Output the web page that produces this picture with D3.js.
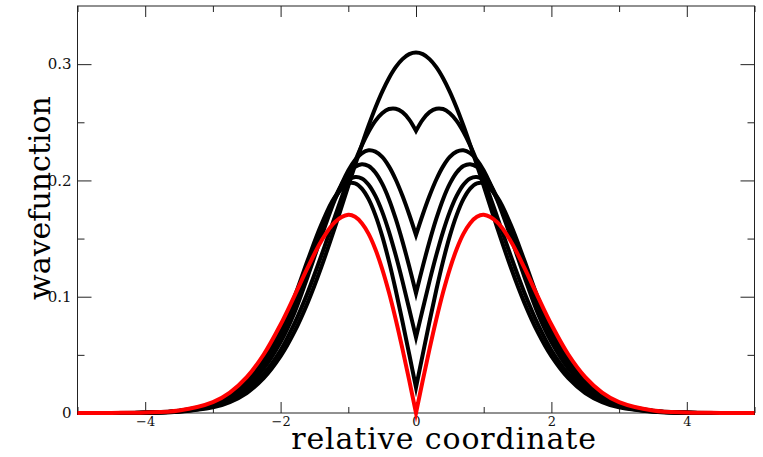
<!DOCTYPE html>
<html>
<head>
<meta charset="utf-8">
<script src="https://cdn.jsdelivr.net/npm/d3@7"></script>
<style>
  html, body { margin: 0; padding: 0; background: #fff; }
  svg { display: block; }
</style>
</head>
<body>
<div id="chart"></div>
<script>
// relative coordinate samples
const xs = [-5, -4.5, -4, -3.5, -3, -2.75, -2.5, -2.25, -2, -1.8, -1.6, -1.4, -1.2, -1, -0.9, -0.8, -0.7, -0.6, -0.5, -0.4, -0.3, -0.2, -0.1,
  0, 0.1, 0.2, 0.3, 0.4, 0.5, 0.6, 0.7, 0.8, 0.9, 1, 1.2, 1.4, 1.6, 1.8, 2, 2.25, 2.5, 2.75, 3, 3.5, 4, 4.5, 5];

// black curves, from the smooth one (no cusp) down to the deepest cusp
const psiA = [0, 0, 0.0002, 0.0011, 0.0048, 0.0094, 0.0172, 0.0299, 0.0488, 0.0693, 0.0949, 0.1253, 0.1593, 0.1952, 0.2132, 0.2306, 0.2472, 0.2625, 0.2762, 0.2879, 0.2974, 0.3043, 0.3086,
  0.3100, 0.3086, 0.3043, 0.2974, 0.2879, 0.2762, 0.2625, 0.2472, 0.2306, 0.2132, 0.1952, 0.1593, 0.1253, 0.0949, 0.0693, 0.0488, 0.0299, 0.0172, 0.0094, 0.0048, 0.0011, 0.0002, 0, 0];
const psiB = [0, 0, 0.0002, 0.0013, 0.0058, 0.0110, 0.0198, 0.0337, 0.0540, 0.0764, 0.1037, 0.1350, 0.1684, 0.2013, 0.2164, 0.2301, 0.2418, 0.2512, 0.2578, 0.2614, 0.2617, 0.2587, 0.2523,
  0.2426, 0.2523, 0.2587, 0.2617, 0.2614, 0.2578, 0.2512, 0.2418, 0.2301, 0.2164, 0.2013, 0.1684, 0.1350, 0.1037, 0.0764, 0.0540, 0.0337, 0.0198, 0.0110, 0.0058, 0.0013, 0.0002, 0, 0];
const psiC = [0, 0, 0.0003, 0.0015, 0.0066, 0.0126, 0.0226, 0.0382, 0.0610, 0.0856, 0.1174, 0.1512, 0.1831, 0.2086, 0.2176, 0.2234, 0.2259, 0.2248, 0.2202, 0.2121, 0.2008, 0.1868, 0.1707,
  0.1530, 0.1707, 0.1868, 0.2008, 0.2121, 0.2202, 0.2248, 0.2259, 0.2234, 0.2176, 0.2086, 0.1831, 0.1512, 0.1174, 0.0856, 0.0610, 0.0382, 0.0226, 0.0126, 0.0066, 0.0015, 0.0003, 0, 0];
const psiD = [0, 0, 0.0003, 0.0017, 0.0072, 0.0136, 0.0243, 0.0409, 0.0649, 0.0908, 0.1233, 0.1559, 0.1850, 0.2058, 0.2117, 0.2140, 0.2124, 0.2068, 0.1972, 0.1839, 0.1671, 0.1476, 0.1260,
  0.1030, 0.1260, 0.1476, 0.1671, 0.1839, 0.1972, 0.2068, 0.2124, 0.2140, 0.2117, 0.2058, 0.1850, 0.1559, 0.1233, 0.0908, 0.0649, 0.0409, 0.0243, 0.0136, 0.0072, 0.0017, 0.0003, 0, 0];
const psiE = [0, 0, 0.0003, 0.0018, 0.0076, 0.0145, 0.0259, 0.0433, 0.0683, 0.0950, 0.1269, 0.1582, 0.1843, 0.2002, 0.2029, 0.2017, 0.1963, 0.1867, 0.1732, 0.1560, 0.1358, 0.1134, 0.0894,
  0.0650, 0.0894, 0.1134, 0.1358, 0.1560, 0.1732, 0.1867, 0.1963, 0.2017, 0.2029, 0.2002, 0.1843, 0.1582, 0.1269, 0.0950, 0.0683, 0.0433, 0.0259, 0.0145, 0.0076, 0.0018, 0.0003, 0, 0];
const psiF = [0, 0, 0.0004, 0.0019, 0.0082, 0.0155, 0.0276, 0.0460, 0.0722, 0.0991, 0.1313, 0.1618, 0.1856, 0.1975, 0.1975, 0.1930, 0.1839, 0.1702, 0.1523, 0.1306, 0.1058, 0.0787, 0.0505,
  0.0220, 0.0505, 0.0787, 0.1058, 0.1306, 0.1523, 0.1702, 0.1839, 0.1930, 0.1975, 0.1975, 0.1856, 0.1618, 0.1313, 0.0991, 0.0722, 0.0460, 0.0276, 0.0155, 0.0082, 0.0019, 0.0004, 0, 0];
// red curve (node at the origin)
const psiRed = [0, 0.0001, 0.0004, 0.0022, 0.0094, 0.0176, 0.0309, 0.0503, 0.0761, 0.1001, 0.1250, 0.1477, 0.1641, 0.1704, 0.1687, 0.1632, 0.1540, 0.1408, 0.1240, 0.1038, 0.0806, 0.0551, 0.0280,
  0, 0.0280, 0.0551, 0.0806, 0.1038, 0.1240, 0.1408, 0.1540, 0.1632, 0.1687, 0.1704, 0.1641, 0.1477, 0.1250, 0.1001, 0.0761, 0.0503, 0.0309, 0.0176, 0.0094, 0.0022, 0.0004, 0.0001, 0];

const blackSeries = [psiA, psiB, psiC, psiD, psiE, psiF];

const xMajor = [-4, -2, 0, 2, 4];
const xMinor = [-5, -3, -1, 1, 3, 5];
const yMajor = [0, 0.1, 0.2, 0.3];
const yMinor = [0.05, 0.15, 0.25];
const yLabels = ["0", "0.1", "0.2", "0.3"];

const xTitle = "relative coordinate";
const yTitle = "wavefunction";

const width = 763, height = 457;
const margin = { left: 77.5, right: 8.5, top: 6, bottom: 44 };

const svg = d3.select("#chart").append("svg")
    .attr("width", width)
    .attr("height", height);

svg.append("rect").attr("width", width).attr("height", height).attr("fill", "#fff");

const x = d3.scaleLinear().domain([-5, 5]).range([margin.left, width - margin.right]);
const y = d3.scaleLinear().domain([0, 0.35]).range([height - margin.bottom, margin.top]);

const serif = "'DejaVu Serif', 'Liberation Serif', serif";

// frame
svg.append("rect")
    .attr("x", x(-5)).attr("y", y(0.35))
    .attr("width", x(5) - x(-5)).attr("height", y(0) - y(0.35))
    .attr("fill", "none").attr("stroke", "#222").attr("stroke-width", 1);

// ticks (pointing inward on all four sides)
function styleAxis(g) {
    g.select(".domain").remove();
    g.selectAll(".tick line").attr("stroke", "#222").attr("stroke-width", 1);
}

svg.append("g")
    .attr("transform", `translate(0,${y(0)})`)
    .call(d3.axisBottom(x).tickValues(xMajor).tickSize(-11).tickPadding(4).tickFormat(d3.format("d")))
    .call(styleAxis)
    .call(g => g.selectAll("text").attr("font-family", serif).attr("font-size", 13).attr("fill", "#111"));
svg.append("g")
    .attr("transform", `translate(0,${y(0)})`)
    .call(d3.axisBottom(x).tickValues(xMinor).tickSize(-6).tickFormat(""))
    .call(styleAxis);
svg.append("g")
    .attr("transform", `translate(0,${y(0.35)})`)
    .call(d3.axisTop(x).tickValues(xMajor).tickSize(-11).tickFormat(""))
    .call(styleAxis);
svg.append("g")
    .attr("transform", `translate(0,${y(0.35)})`)
    .call(d3.axisTop(x).tickValues(xMinor).tickSize(-6).tickFormat(""))
    .call(styleAxis);

svg.append("g")
    .attr("transform", `translate(${x(-5)},0)`)
    .call(d3.axisLeft(y).tickValues(yMajor).tickSize(-14).tickPadding(6).tickFormat((d, i) => yLabels[i]))
    .call(styleAxis)
    .call(g => g.selectAll("text").attr("font-family", serif).attr("font-size", 15).attr("fill", "#111"));
svg.append("g")
    .attr("transform", `translate(${x(-5)},0)`)
    .call(d3.axisLeft(y).tickValues(yMinor).tickSize(-7).tickFormat(""))
    .call(styleAxis);
svg.append("g")
    .attr("transform", `translate(${x(5)},0)`)
    .call(d3.axisRight(y).tickValues(yMajor).tickSize(-14).tickFormat(""))
    .call(styleAxis);
svg.append("g")
    .attr("transform", `translate(${x(5)},0)`)
    .call(d3.axisRight(y).tickValues(yMinor).tickSize(-7).tickFormat(""))
    .call(styleAxis);

// curves: each half drawn with a smooth curve, joined at x = 0 so the cusp stays sharp
const line = d3.line()
    .x(d => x(d[0]))
    .y(d => y(d[1]))
    .curve(d3.curveCatmullRom.alpha(0.5));

function cuspPath(vals) {
    const pts = xs.map((v, i) => [v, vals[i]]);
    const left = pts.filter(p => p[0] <= 0);
    const right = pts.filter(p => p[0] >= 0);
    return line(left) + line(right).replace(/^M[^A-Z]*/, "");
}

const curves = svg.append("g").attr("fill", "none")
    .attr("stroke-linejoin", "miter").attr("stroke-miterlimit", 12);

curves.append("path")
    .attr("d", line(xs.map((v, i) => [v, psiA[i]])))
    .attr("stroke", "#000").attr("stroke-width", 4);

curves.selectAll("path.cusp")
    .data(blackSeries.slice(1))
    .join("path")
    .attr("class", "cusp")
    .attr("d", d => cuspPath(d))
    .attr("stroke", "#000").attr("stroke-width", 4);

curves.append("path")
    .attr("d", cuspPath(psiRed))
    .attr("stroke", "#ff0000").attr("stroke-width", 4);

// axis titles
svg.append("text")
    .attr("x", 444).attr("y", 449)
    .attr("text-anchor", "middle")
    .attr("font-family", serif).attr("font-size", 30)
    .attr("letter-spacing", 0.9)
    .attr("fill", "#000")
    .text(xTitle);

svg.append("text")
    .attr("transform", "translate(50,198) rotate(-90)")
    .attr("text-anchor", "middle")
    .attr("font-family", serif).attr("font-size", 30)
    .attr("fill", "#000")
    .text(yTitle);
</script>
</body>
</html>
